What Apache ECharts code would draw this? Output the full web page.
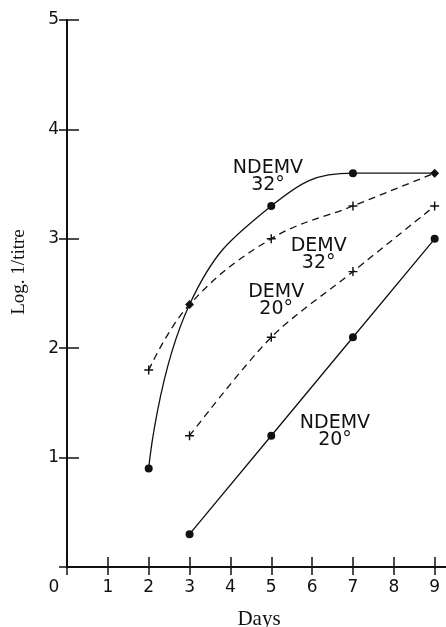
<!DOCTYPE html>
<html>
<head>
<meta charset="UTF-8">
<title>Log 1/titre vs days</title>
<script src="https://cdn.jsdelivr.net/npm/echarts@6/dist/echarts.min.js"></script>
<style>
html,body{margin:0;padding:0;background:#fff;}
#chart{width:446px;height:627px;}
</style>
</head>
<body>
<div id="chart"></div>
<script>
// data
var ndemv32Days = [2, 3, 5, 7, 9];
var ndemv32Vals = [0.9, 2.4, 3.3, 3.6, 3.6];
var demv32Days = [2, 3, 5, 7, 9];
var demv32Vals = [1.8, 2.4, 3.0, 3.3, 3.6];
var demv20Days = [3, 5, 7, 9];
var demv20Vals = [1.2, 2.1, 2.7, 3.3];
var ndemv20Days = [3, 5, 7, 9];
var ndemv20Vals = [0.3, 1.2, 2.1, 3.0];
var xTicks = [0, 1, 2, 3, 4, 5, 6, 7, 8, 9];
var yTicks = [1, 2, 3, 4, 5];

var ink = '#111';
var sans = 'DejaVu Sans';
var serif = 'Liberation Serif';
var plus = 'path://M4.2,0H5.8V4.2H10V5.8H5.8V10H4.2V5.8H0V4.2H4.2Z';

function pairs(xs, ys) {
	return xs.map(function(x, i) { return [x, ys[i]]; });
}

// where both 32° curves meet a diamond is drawn
function shared(x, y) {
	var j = demv32Days.indexOf(x);
	return j >= 0 && demv32Vals[j] === y;
}

var ndemv32Data = pairs(ndemv32Days, ndemv32Vals).map(function(p) {
	return shared(p[0], p[1]) ? {value: p, symbol: 'diamond', symbolSize: 9} : {value: p};
});
var demv32Data = pairs(demv32Days, demv32Vals).map(function(p, i) {
	var k = ndemv32Days.indexOf(p[0]);
	return (k >= 0 && ndemv32Vals[k] === p[1]) ? {value: p, symbol: 'none'} : {value: p};
});

var axisLine = {show: true, lineStyle: {color: ink, width: 2}};

var option = {
	animation: false,
	backgroundColor: '#fff',
	grid: {left: 67, right: -5, top: 20, bottom: 60, containLabel: false, outerBoundsMode: 'none'},
	xAxis: [{
		type: 'value', position: 'bottom', min: 0, max: 9.4, interval: 1,
		splitLine: {show: false},
		axisLine: axisLine,
		axisTick: {inside: true, length: 10, lineStyle: {color: ink, width: 1.5}},
		axisLabel: {
			margin: 12, color: ink, fontFamily: sans, fontSize: 17,
			showMaxLabel: false,
			formatter: function(v) {
				if (xTicks.indexOf(v) < 0) return '';
				return v === 0 ? '{z|0}' : String(v);
			},
			rich: {z: {padding: [0, 26, 0, 0], fontFamily: sans, fontSize: 17, color: ink}}
		},
		name: 'Days', nameLocation: 'middle', nameGap: 42,
		nameTextStyle: {fontFamily: serif, fontSize: 21, color: ink}
	}, {
		type: 'value', position: 'top', min: 0, max: 9.4, interval: 1,
		splitLine: {show: false},
		axisLine: axisLine,
		axisTick: {inside: true, length: 8, lineStyle: {color: ink, width: 1.5}},
		axisLabel: {show: false}
	}],
	yAxis: [{
		type: 'value', position: 'left', min: 0, max: 5, interval: 1,
		splitLine: {show: false},
		axisLine: axisLine,
		axisTick: {inside: true, length: 12, lineStyle: {color: ink, width: 1.5}},
		axisLabel: {
			margin: 8, color: ink, fontFamily: sans, fontSize: 17,
			formatter: function(v) { return yTicks.indexOf(v) >= 0 ? String(v) : ''; }
		},
		name: 'Log. 1/titre', nameLocation: 'middle', nameGap: 38, nameRotate: 90,
		nameTextStyle: {fontFamily: serif, fontSize: 19, color: ink, padding: [0, 0, 0, 43]}
	}, {
		type: 'value', position: 'right', min: 0, max: 5, interval: 1,
		splitLine: {show: false},
		axisLine: axisLine,
		axisTick: {inside: true, length: 8, lineStyle: {color: ink, width: 1.5}},
		axisLabel: {show: false}
	}],
	series: [{
		name: 'NDEMV 32°', type: 'line', smooth: 0.45,
		data: ndemv32Data,
		symbol: 'circle', symbolSize: 8,
		itemStyle: {color: ink},
		lineStyle: {color: ink, width: 1.3},
		z: 3
	}, {
		name: 'DEMV 32°', type: 'line', smooth: 0.4,
		data: demv32Data,
		symbol: plus, symbolSize: 9,
		itemStyle: {color: ink},
		lineStyle: {color: ink, width: 1.3, type: [7, 5]}
	}, {
		name: 'DEMV 20°', type: 'line', smooth: 0.3,
		data: pairs(demv20Days, demv20Vals),
		symbol: plus, symbolSize: 9,
		itemStyle: {color: ink},
		lineStyle: {color: ink, width: 1.3, type: [7, 5]}
	}, {
		name: 'NDEMV 20°', type: 'line', smooth: false,
		data: pairs(ndemv20Days, ndemv20Vals),
		symbol: 'circle', symbolSize: 8,
		itemStyle: {color: ink},
		lineStyle: {color: ink, width: 1.3}
	}, {
		// curve names written beside the lines
		type: 'scatter', symbolSize: 0, silent: true,
		itemStyle: {opacity: 1, color: ink},
		data: [
			{value: [4.92, 3.57], name: 'NDEMV\n32°'},
			{value: [6.16, 2.86], name: 'DEMV\n32°'},
			{value: [5.12, 2.44], name: 'DEMV\n20°'},
			{value: [6.56, 1.24], name: 'NDEMV\n20°'}
		],
		label: {
			show: true, position: 'inside', formatter: '{b}',
			fontFamily: sans, fontSize: 19, lineHeight: 17, color: ink, align: 'center',
			textBorderWidth: 0, opacity: 1
		}
	}]
};

var myChart = echarts.init(document.getElementById('chart'));
myChart.setOption(option);
</script>
</body>
</html>
